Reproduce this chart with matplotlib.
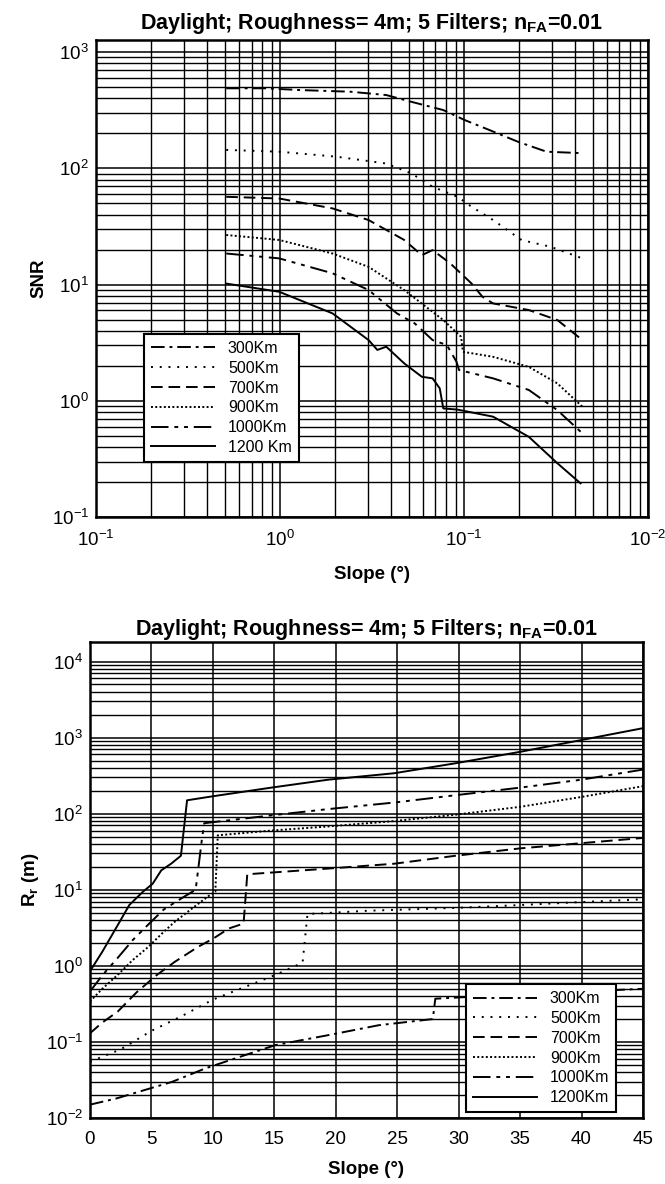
import numpy as np
import matplotlib
matplotlib.use("Agg")
import matplotlib.pyplot as plt
from matplotlib.ticker import LogLocator, FixedLocator, FixedFormatter, NullFormatter, MultipleLocator

plt.rcParams['font.family'] = ['Liberation Sans', 'DejaVu Sans']
plt.rcParams['mathtext.fontset'] = 'custom'
plt.rcParams['mathtext.rm'] = 'Liberation Sans'
plt.rcParams['mathtext.it'] = 'Liberation Sans:italic'
plt.rcParams['mathtext.bf'] = 'Liberation Sans:bold'

title = 'Daylight; Roughness= 4m; 5 Filters; $\\mathbf{n_{FA}}$=0.01'

# ---- top panel: SNR vs slope (log-log) ----
top_labels = ['300Km', '500Km', '700Km', '900Km', '1000Km', '1200 Km']
top_xticks = [0.1, 1, 10, 100]
top_xticklabels = ['$10^{-1}$', '$10^{0}$', '$10^{-1}$', '$10^{-2}$']

x300 = [0.51, 0.83, 1.3, 2.42, 3.78, 5.16, 7.72, 10.1, 13.8, 19.7, 28.1, 44.0]
s300 = [488, 488, 471, 456, 427, 374, 317, 260, 213, 169, 139, 135]
x500 = [0.51, 0.99, 2.02, 3.78, 5.16, 6.75, 9.23, 11.0, 14.4, 20.6, 29.4, 44.0]
s500 = [144, 139, 126, 110, 90.6, 69.4, 56.9, 46.7, 35.9, 24.1, 21.2, 16.8]
x700 = [0.51, 0.99, 1.93, 3.03, 4.73, 5.9, 6.75, 8.43, 11.0, 12.6, 14.4, 22.5, 32.2, 44.0]
s700 = [56.9, 55, 45.2, 35.9, 24.2, 17.9, 19.8, 15.2, 10.2, 7.85, 6.88, 6.04, 4.95, 3.33]
x900 = [0.51, 0.99, 1.93, 3.03, 4.73, 7.72, 9.64, 9.87, 14.4, 22.5, 32.2, 44.0]
s900 = [26.7, 24.2, 18.5, 14.2, 8.97, 4.95, 3.56, 2.64, 2.39, 1.96, 1.41, 0.89]
x1000 = [0.51, 0.99, 1.93, 3.03, 4.32, 5.4, 6.75, 8.07, 9.1, 9.4, 14.4, 22.5, 32.2, 44.0]
s1000 = [18.5, 16.8, 12.5, 8.97, 5.65, 4.63, 3.33, 3.02, 2.17, 1.84, 1.56, 1.24, 0.83, 0.525]
x1200 = [0.51, 0.99, 1.93, 3.03, 3.38, 3.78, 4.73, 5.9, 6.75, 7.38, 7.72, 9.23, 14.4, 22.5, 32.2, 43.0]
s1200 = [10.2, 8.67, 5.65, 3.33, 2.74, 2.92, 2.1, 1.61, 1.56, 1.28, 0.86, 0.84, 0.73, 0.49, 0.29, 0.195]

# ---- bottom panel: R_r vs slope (lin-log) ----
bot_labels = ['300Km', '500Km', '700Km', '900Km', '1000Km', '1200Km']
d300 = [0, 2.1, 4.7, 6.7, 9.4, 12.6, 15.1, 19.4, 23.5, 27.9, 28.1, 30.7, 45]
r300 = [0.015, 0.018, 0.024, 0.030, 0.045, 0.067, 0.091, 0.123, 0.166, 0.2, 0.37, 0.39, 0.5]
d500 = [0, 2.5, 5, 7.5, 10, 12.5, 15, 17.3, 17.7, 22.6, 30, 35, 40, 45]
r500 = [0.055, 0.08, 0.14, 0.22, 0.36, 0.52, 0.75, 1.1, 4.8, 5.3, 5.8, 6.3, 6.9, 7.5]
d700 = [0, 1, 2.25, 3.8, 5.4, 6.9, 8.8, 10.06, 11.3, 12.5, 12.8, 19.4, 24.75, 29.75, 35, 40, 45]
r700 = [0.13, 0.18, 0.25, 0.45, 0.75, 1.13, 1.78, 2.3, 3.1, 3.6, 16, 19, 22, 28, 35, 41, 48]
d900 = [0, 1, 2.25, 3.5, 4.75, 6, 6.9, 8.5, 9.75, 10.2, 10.4, 14.75, 19.4, 24.75, 29.75, 35, 40, 45]
r900 = [0.34, 0.5, 0.76, 1.2, 1.78, 2.8, 3.8, 6, 8.5, 9.4, 52, 60, 68, 80, 97, 123, 166, 230]
d1000 = [0, 1, 2.25, 3.5, 4.75, 6, 7.6, 8.6, 9.1, 9.3, 14.75, 19.4, 24.75, 29.75, 35, 40, 45]
r1000 = [0.46, 0.75, 1.27, 2.2, 3.5, 5.5, 8, 10, 45, 75, 95, 115, 140, 175, 220, 280, 380]
d1200 = [0, 1, 2.1, 3.2, 4.3, 5.1, 5.8, 6.6, 7.4, 7.9, 10.06, 14.75, 19.4, 24.75, 29.75, 35, 40, 45]
r1200 = [0.85, 1.53, 3.1, 6.3, 9.4, 12, 18, 22, 28, 150, 170, 220, 280, 340, 460, 650, 930, 1330]

styles = [
    dict(dashes=(7, 2.5, 1.5, 2.5)),
    dict(dashes=(1, 3.5)),
    dict(dashes=(6, 3)),
    dict(dashes=(1, 1.2)),
    dict(dashes=(9, 3, 2, 3, 2, 3)),
    dict(linestyle='-'),
]

fig = plt.figure(figsize=(6.65, 11.84), dpi=100)

def style_grid(ax):
    ax.grid(True, which='major', color='black', linewidth=1.1)
    ax.grid(True, which='minor', color='black', linewidth=1.0)
    for sp in ax.spines.values():
        sp.set_linewidth(1.8)
    ax.tick_params(which='both', length=0, labelsize=13.5)
    ax.tick_params(axis='x', pad=9)
    ax.tick_params(axis='y', pad=5)

def make_legend(ax, labels, anchor):
    leg = ax.legend(labels, loc='lower left', bbox_to_anchor=anchor, borderaxespad=0,
                    handlelength=4.0, fontsize=11.5, fancybox=False, framealpha=1,
                    edgecolor='black', labelspacing=0.3, borderpad=0.45, handletextpad=0.8)
    leg.get_frame().set_linewidth(1.5)
    return leg

# top
ax1 = fig.add_axes([0.1444, 0.5633, 0.830, 0.4029])
for xs, ys, st in zip([x300, x500, x700, x900, x1000, x1200],
                      [s300, s500, s700, s900, s1000, s1200], styles):
    ax1.plot(xs, ys, color='black', linewidth=1.4, **st)
ax1.set_xscale('log')
ax1.set_yscale('log')
ax1.set_xlim(0.1, 100)
ax1.set_ylim(0.1, 1270)
ax1.xaxis.set_major_locator(FixedLocator(top_xticks))
ax1.xaxis.set_major_formatter(FixedFormatter(top_xticklabels))
ax1.xaxis.set_minor_locator(LogLocator(base=10, subs=np.arange(2, 10)))
ax1.xaxis.set_minor_formatter(NullFormatter())
ax1.yaxis.set_major_locator(LogLocator(base=10, numticks=10))
ax1.yaxis.set_minor_locator(LogLocator(base=10, subs=np.arange(2, 10), numticks=10))
ax1.yaxis.set_minor_formatter(NullFormatter())
style_grid(ax1)
ax1.set_title(title, fontsize=15.5, fontweight='bold', pad=8)
ax1.set_xlabel('Slope (°)', fontsize=13.5, fontweight='bold', labelpad=12)
ax1.set_ylabel('SNR', fontsize=13.5, fontweight='bold', labelpad=3)
make_legend(ax1, top_labels, (0.087, 0.115))

# bottom
ax2 = fig.add_axes([0.1353, 0.0557, 0.8316, 0.402])
for xs, ys, st in zip([d300, d500, d700, d900, d1000, d1200],
                      [r300, r500, r700, r900, r1000, r1200], styles):
    ax2.plot(xs, ys, color='black', linewidth=1.4, **st)
ax2.set_yscale('log')
ax2.set_xlim(0, 45)
ax2.set_ylim(0.01, 1.8e4)
ax2.xaxis.set_major_locator(MultipleLocator(5))
ax2.yaxis.set_major_locator(LogLocator(base=10, numticks=10))
ax2.yaxis.set_minor_locator(LogLocator(base=10, subs=np.arange(2, 10), numticks=10))
ax2.yaxis.set_minor_formatter(NullFormatter())
style_grid(ax2)
ax2.set_title(title, fontsize=15.5, fontweight='bold', pad=5)
ax2.set_xlabel('Slope (°)', fontsize=13.5, fontweight='bold', labelpad=10)
ax2.set_ylabel('R$_\\mathbf{r}$ (m)', fontsize=13.5, fontweight='bold', labelpad=3)
make_legend(ax2, bot_labels, (0.68, 0.012))

fig.savefig('out.png', dpi=100)
